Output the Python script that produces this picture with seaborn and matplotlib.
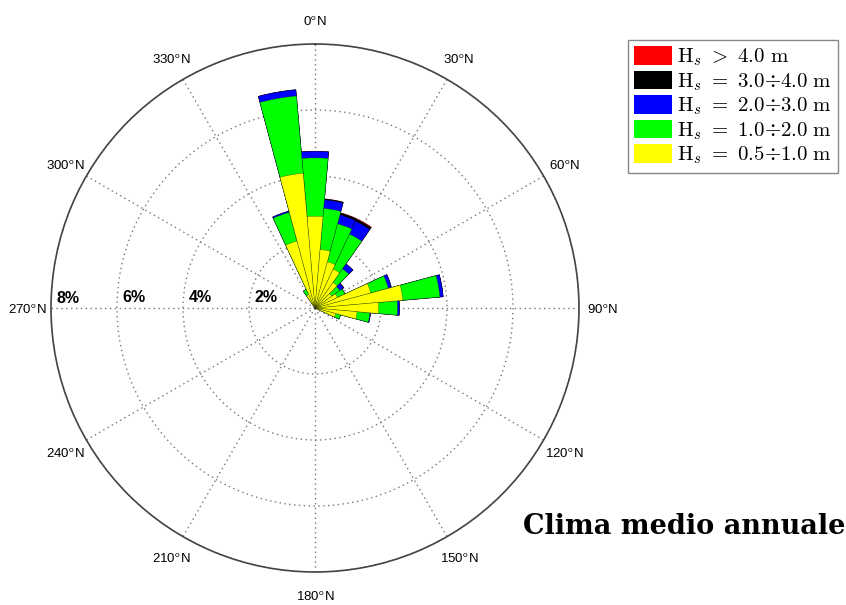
import numpy as np
import pandas as pd
import matplotlib
matplotlib.use("Agg")
import matplotlib.pyplot as plt
import matplotlib.transforms as mtransforms
from matplotlib.patches import Patch
import seaborn as sns

# ---------------- data (percent of occurrence) ----------------
directions = [330, 340, 350, 0, 10, 20, 30, 40, 50, 60, 70, 80, 90, 100, 110]
hs_05_10 = [0.45, 2.10, 4.10, 2.78, 1.78, 1.45, 1.30, 0.95, 0.62, 0.75, 1.75, 2.67, 1.93, 1.28, 0.65]
hs_10_20 = [0.17, 0.90, 2.35, 1.77, 1.25, 1.19, 1.17, 0.50, 0.30, 0.25, 0.55, 1.13, 0.57, 0.39, 0.15]
hs_20_30 = [0.00, 0.04, 0.19, 0.20, 0.26, 0.28, 0.43, 0.18, 0.14, 0.00, 0.10, 0.10, 0.06, 0.02, 0.00]
hs_30_40 = [0.00, 0.00, 0.00, 0.00, 0.03, 0.06, 0.07, 0.00, 0.01, 0.00, 0.00, 0.00, 0.00, 0.00, 0.00]
hs_gt_40 = [0.00, 0.00, 0.00, 0.00, 0.00, 0.01, 0.02, 0.00, 0.00, 0.00, 0.00, 0.00, 0.00, 0.00, 0.00]

class_labels = [r"$\mathrm{H}_s\ >\ 4.0\ \mathrm{m}$",
                r"$\mathrm{H}_s\ =\ 3.0{\div}4.0\ \mathrm{m}$",
                r"$\mathrm{H}_s\ =\ 2.0{\div}3.0\ \mathrm{m}$",
                r"$\mathrm{H}_s\ =\ 1.0{\div}2.0\ \mathrm{m}$",
                r"$\mathrm{H}_s\ =\ 0.5{\div}1.0\ \mathrm{m}$"]
class_colors = ["#ff0000", "#000000", "#0000ff", "#00ff00", "#ffff00"]

ring_values = [2, 4, 6, 8]
ring_labels = ["2%", "4%", "6%", "8%"]
dir_ticks = list(range(0, 360, 30))
title_text = "Clima medio annuale"

# ---------------- style ----------------
sns.set_style("white")
plt.rcParams["mathtext.fontset"] = "cm"
plt.rcParams["font.family"] = ["Liberation Sans", "DejaVu Sans"]
plt.rcParams["text.color"] = "black"

fig = plt.figure(figsize=(8.46, 6.05), dpi=100)
cx, cy, R = 315, 308, 264
ax = fig.add_axes([(cx - R) / 846, (605 - cy - R) / 605, 2 * R / 846, 2 * R / 605],
                  projection="polar")
ax.set_theta_zero_location("N")
ax.set_theta_direction(-1)

theta = np.deg2rad(directions)
layers = [hs_05_10, hs_10_20, hs_20_30, hs_30_40, hs_gt_40]  # bottom -> top
cum = np.cumsum(np.array(layers), axis=0)  # cumulative tops
# draw from the top class (largest cumulative) down, each overpainting the one below
for idx in range(len(layers) - 1, -1, -1):
    color = class_colors[len(layers) - 1 - idx]
    df = pd.DataFrame({"theta": theta, "pct": cum[idx]})
    sns.barplot(data=df, x="theta", y="pct", native_scale=True, orient="x",
                width=1.0, color=color, saturation=1, errorbar=None,
                edgecolor=(0, 0, 0, 0.45), linewidth=0.4, ax=ax)

ax.set_xlabel("")
ax.set_ylabel("")
ax.set_ylim(0, 8)
ax.set_xticks(np.deg2rad(dir_ticks))
ax.set_xticklabels([])
ax.set_yticks(ring_values)
ax.set_yticklabels([])
ax.grid(True, linestyle=(0, (1, 2.5)), color="#777777", linewidth=1.0)
ax.spines["polar"].set_color("#444444")
ax.spines["polar"].set_linewidth(1.2)
ax.set_axisbelow(True)

# direction labels
dir_trans = mtransforms.offset_copy(ax.transData, fig=fig, x=0, y=-2, units="dots")
for d in dir_ticks:
    ax.text(np.deg2rad(d), 8 * 1.09, f"{d}" + r"$^{\mathsf{o}}$" + "N",
            transform=dir_trans, ha="center", va="center", fontsize=9.5,
            color="black", clip_on=False)

# ring labels along the 270 direction
trans = mtransforms.offset_copy(ax.transData, fig=fig, x=17, y=10, units="dots")
for v, lab in zip(ring_values, ring_labels):
    ax.text(np.deg2rad(270), v, lab, transform=trans, ha="center", va="center",
            fontsize=11.5, fontweight="bold", color="black", clip_on=False)

# legend
handles = [Patch(facecolor=c, edgecolor="none") for c in class_colors]
leg = fig.legend(handles, class_labels, loc="upper left",
                 bbox_to_anchor=(628 / 846, 1 - 40 / 605), borderaxespad=0,
                 fontsize=15, frameon=True, fancybox=False, framealpha=1,
                 edgecolor="#888888", handlelength=1.8, handleheight=1.0,
                 handletextpad=0.25, labelspacing=0.12, borderpad=0.3)
leg.get_frame().set_linewidth(1.0)
for t in leg.get_texts():
    t.set_color("black")

fig.text(845 / 846, 1 - 527 / 605, title_text, ha="right", va="center",
         fontsize=19.5, fontweight="bold", family="DejaVu Serif", color="black")

fig.savefig("out.png", dpi=100, facecolor="white")
